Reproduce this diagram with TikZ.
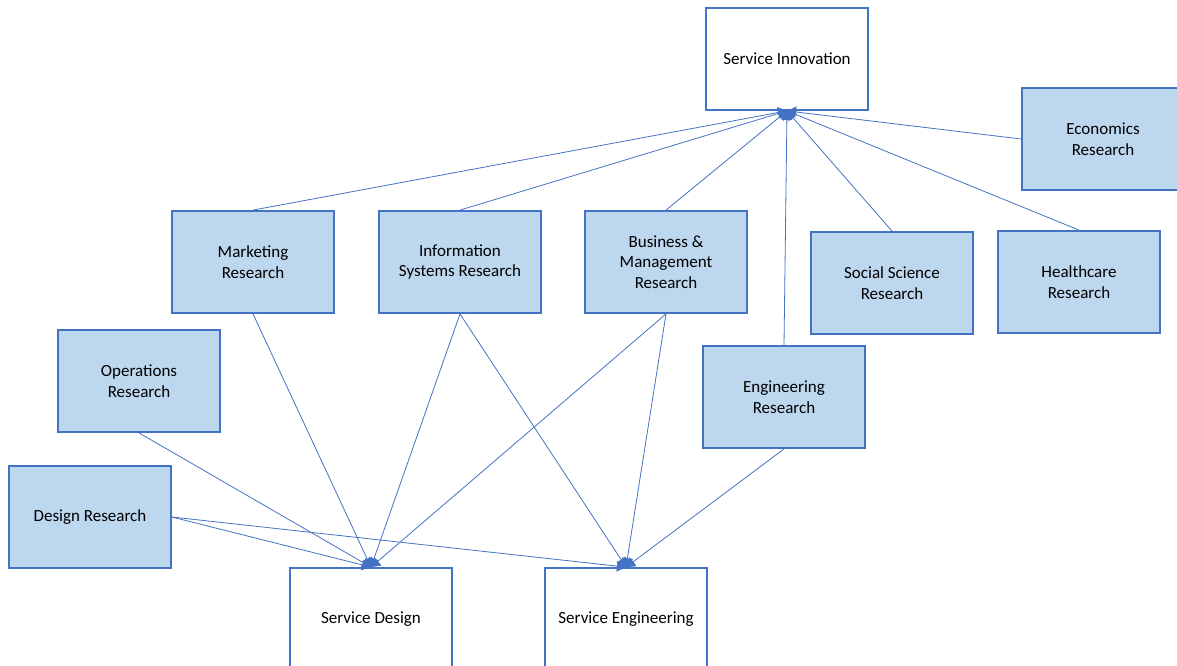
\documentclass[tikz,border=0pt]{standalone}
\usepackage{fontspec}
\setmainfont{Carlito}
\usetikzlibrary{arrows.meta}
\definecolor{lineblue}{HTML}{4472C4}
\definecolor{boxblue}{HTML}{BDD7EE}

\begin{document}
\begin{tikzpicture}[x=1pt, y=-1pt,
        area/.style={draw=lineblue, line width=1.8pt, minimum width=162pt, minimum height=102pt,
            inner sep=0pt, align=center, font=\fontsize{17}{20.5}\selectfont},
        field/.style={area, fill=boxblue},
        link/.style={draw=lineblue, line width=0.8pt, -{Triangle[length=9pt,width=11pt]}}]
    \useasboundingbox (0,0) rectangle (1177,666);
    \node[area] (Innovation node) at (787,59) {Service Innovation};
    \node[field] (Economics node) at (1103,139) {Economics\\Research};
    \node[field] (Marketing node) at (253,262) {Marketing\\Research};
    \node[field] (Systems node) at (460,262) {Information\\Systems Research};
    \node[field] (Business node) at (666,262) {Business \&\\Management\\Research};
    \node[field] (Social node) at (892,283) {Social Science\\Research};
    \node[field] (Healthcare node) at (1079,282) {Healthcare\\Research};
    \node[field] (Operations node) at (139,381) {Operations\\Research};
    \node[field] (Engineering node) at (784,397) {Engineering\\Research};
    \node[field] (Design node) at (90,517) {Design Research};
    \node[area] (ServDesign node) at (371,619) {Service Design};
    \node[area] (ServEng node) at (626,619) {Service Engineering};

    \foreach \from in {Marketing node, Systems node, Business node, Engineering node, Social node, Healthcare node}
        \draw[link] (\from.north) -- (Innovation node.south);
    \draw[link] (Economics node.west) -- (Innovation node.south);

    \foreach \from in {Operations node, Marketing node, Systems node, Business node}
        \draw[link] (\from.south) -- (ServDesign node.north);
    \draw[link] (Design node.east) -- (ServDesign node.north);

    \foreach \from in {Systems node, Business node, Engineering node}
        \draw[link] (\from.south) -- (ServEng node.north);
    \draw[link] (Design node.east) -- (ServEng node.north);
\end{tikzpicture}
\end{document}
